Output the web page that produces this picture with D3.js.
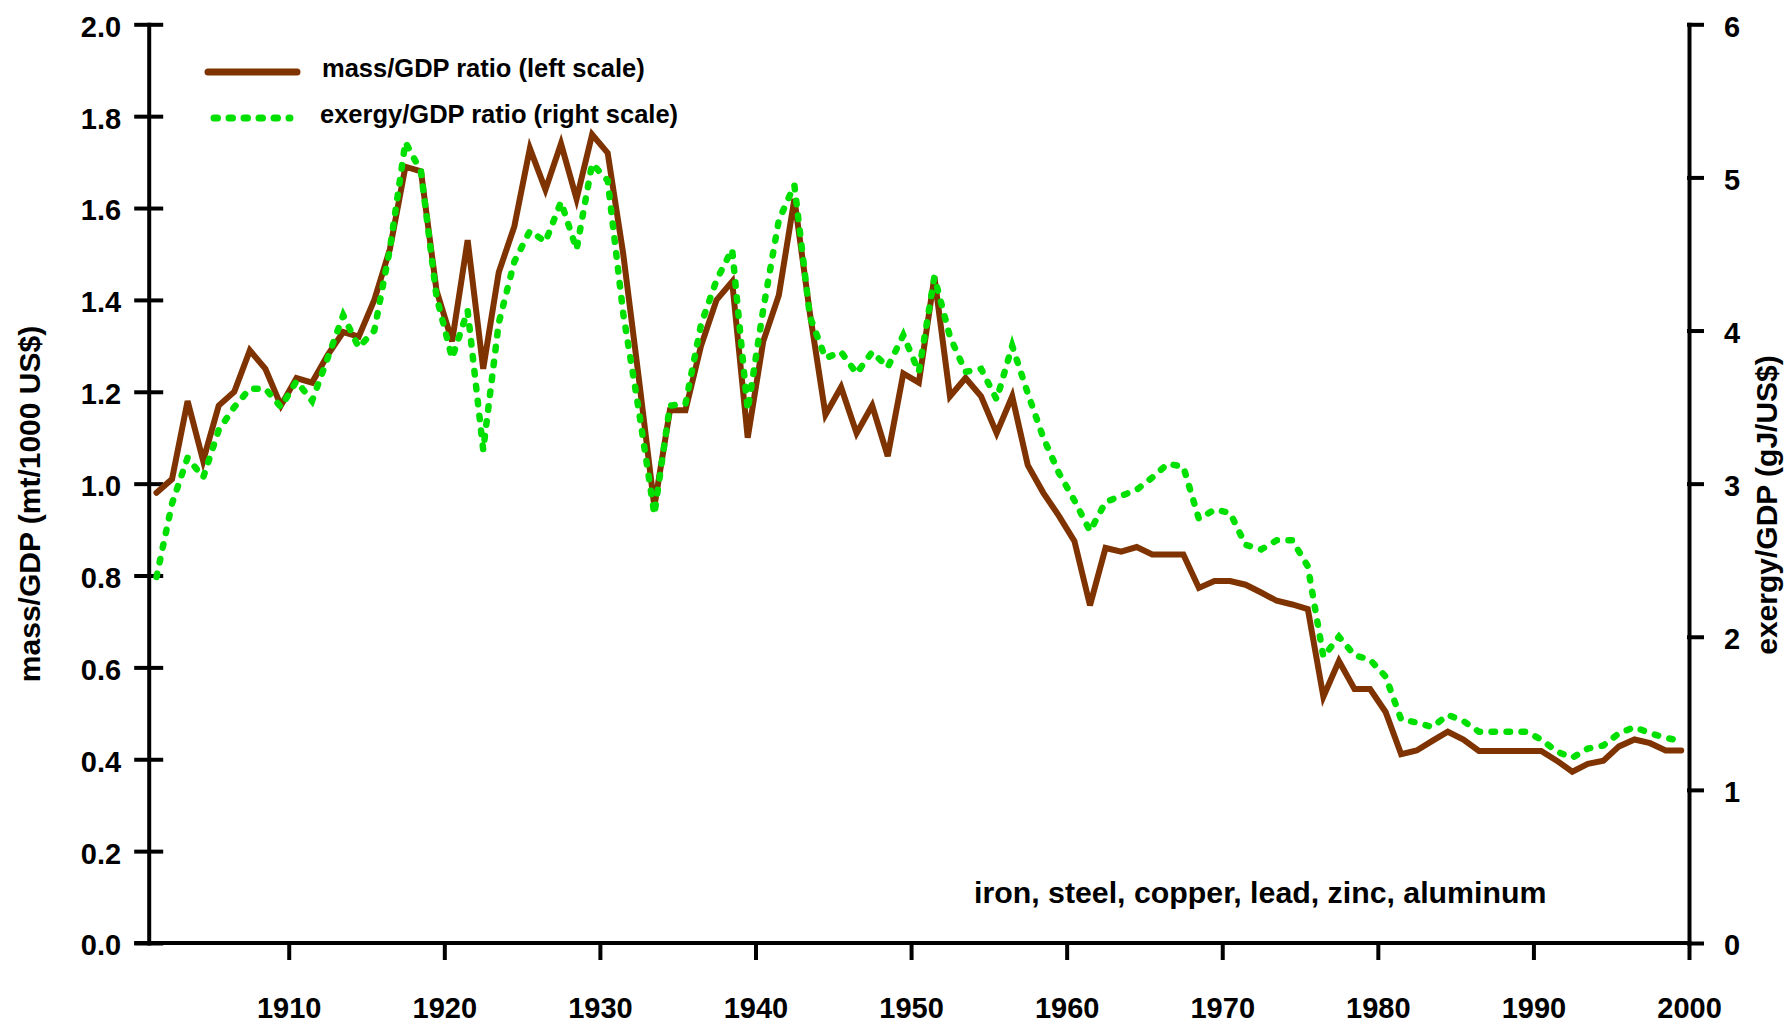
<!DOCTYPE html>
<html>
<head>
<meta charset="utf-8">
<script src="https://cdn.jsdelivr.net/npm/d3@7"></script>
<style>
body { margin: 0; background: #fff; }
text { font-family: "Liberation Sans", Arial, sans-serif; font-weight: bold; fill: #000; }
</style>
</head>
<body>
<div id="chart-area"></div>
<script>
// yearly values 1901-1999
var years = d3.range(1901, 2000);
var massRatio = [
    0.98, 1.01, 1.18, 1.05, 1.17, 1.20, 1.29, 1.25, 1.17, 1.23,
    1.22, 1.28, 1.33, 1.32, 1.40, 1.51, 1.69, 1.68, 1.42, 1.31,
    1.53, 1.25, 1.46, 1.56, 1.73, 1.64, 1.74, 1.62, 1.76, 1.72,
    1.50, 1.23, 0.95, 1.16, 1.16, 1.30, 1.40, 1.44, 1.10, 1.31,
    1.41, 1.62, 1.37, 1.15, 1.21, 1.11, 1.17, 1.06, 1.24, 1.22,
    1.45, 1.19, 1.23, 1.19, 1.11, 1.19, 1.04, 0.98, 0.93, 0.875,
    0.735, 0.86, 0.852, 0.862, 0.846, 0.846, 0.846, 0.773, 0.788, 0.788,
    0.78, 0.763, 0.745, 0.737, 0.727, 0.536, 0.614, 0.553, 0.553, 0.503,
    0.411, 0.419, 0.44, 0.46, 0.443, 0.418, 0.418, 0.418, 0.418, 0.418,
    0.397, 0.373, 0.39, 0.397, 0.428, 0.443, 0.435, 0.419, 0.419
];
var exergyRatio = [
    2.39, 2.87, 3.17, 3.04, 3.35, 3.50, 3.62, 3.62, 3.50, 3.67,
    3.54, 3.82, 4.10, 3.89, 4.00, 4.53, 5.23, 5.04, 4.22, 3.82,
    4.13, 3.22, 4.05, 4.45, 4.65, 4.58, 4.84, 4.53, 5.09, 4.98,
    4.11, 3.48, 2.80, 3.51, 3.52, 4.04, 4.33, 4.53, 3.48, 4.14,
    4.72, 4.95, 4.09, 3.82, 3.86, 3.72, 3.86, 3.76, 3.97, 3.73,
    4.35, 3.96, 3.73, 3.75, 3.55, 3.90, 3.59, 3.30, 3.07, 2.89,
    2.69, 2.88, 2.92, 2.96, 3.04, 3.13, 3.11, 2.77, 2.83, 2.81,
    2.60, 2.57, 2.63, 2.63, 2.46, 1.87, 2.00, 1.88, 1.85, 1.74,
    1.46, 1.44, 1.41, 1.49, 1.45, 1.38, 1.38, 1.38, 1.38, 1.33,
    1.25, 1.21, 1.27, 1.29, 1.37, 1.41, 1.37, 1.34, 1.32
];
var leftTicks = [0, 0.2, 0.4, 0.6, 0.8, 1.0, 1.2, 1.4, 1.6, 1.8, 2.0];
var rightTicks = [0, 1, 2, 3, 4, 5, 6];
var yearTicks = [1910, 1920, 1930, 1940, 1950, 1960, 1970, 1980, 1990, 2000];
var legendLabels = ["mass/GDP ratio (left scale)", "exergy/GDP ratio (right scale)"];
var note = "iron, steel, copper, lead, zinc, aluminum";

var brown = "#7f3300";
var green = "#00e000";

var width = 1789, height = 1025;
var margin = {top: 24.3, right: 100, bottom: 82, left: 148.7};

var svg = d3.select("#chart-area")
    .append("svg")
    .attr("width", width)
    .attr("height", height);

var x = d3.scaleLinear().domain([1901, 2000]).range([margin.left, width - margin.right]);
var yLeft = d3.scaleLinear().domain([0, 2]).range([height - margin.bottom, margin.top]);
var yRight = d3.scaleLinear().domain([0, 6]).range([height - margin.bottom, margin.top]);

var data = years.map((yr, i) => {
    return {year: yr, mass: massRatio[i], exergy: exergyRatio[i]};
});

// axes
var leftAxis = svg.append("g")
    .attr("transform", "translate(" + margin.left + ",0)")
    .call(d3.axisLeft(yLeft).tickValues(leftTicks).tickFormat(d3.format(".1f"))
        .tickSizeInner(12.5).tickSizeOuter(0).tickPadding(15));
leftAxis.selectAll(".tick line").attr("x2", -12.5).attr("x1", 12.5);

var rightAxis = svg.append("g")
    .attr("transform", "translate(" + (width - margin.right) + ",0)")
    .call(d3.axisRight(yRight).tickValues(rightTicks).tickFormat(d3.format("d"))
        .tickSizeInner(13).tickSizeOuter(0).tickPadding(22));

var bottomAxis = svg.append("g")
    .attr("transform", "translate(0," + (height - margin.bottom) + ")")
    .call(d3.axisBottom(x).tickValues(yearTicks).tickFormat(d3.format("d"))
        .tickSizeInner(15).tickSizeOuter(0).tickPadding(39));

// x axis line starts under the 0.0 tick
bottomAxis.select(".domain").attr("d", "M" + (margin.left - 12.5) + ",0H" + (width - margin.right));

[leftAxis, rightAxis, bottomAxis].forEach((g) => {
    g.selectAll(".domain, .tick line")
        .attr("stroke", "#000")
        .attr("stroke-width", 4)
        .attr("stroke-linecap", "square");
    g.selectAll(".tick text")
        .attr("font-size", 29)
        .attr("fill", "#000");
});
leftAxis.selectAll(".tick text").attr("dy", "0.41em");
rightAxis.selectAll(".tick text").attr("dy", "0.41em");

// axis titles
svg.append("text")
    .attr("transform", "translate(40,504) rotate(-90)")
    .attr("text-anchor", "middle")
    .attr("font-size", 30)
    .text("mass/GDP (mt/1000 US$)");

svg.append("text")
    .attr("transform", "translate(1777,505) rotate(-90)")
    .attr("text-anchor", "middle")
    .attr("font-size", 30)
    .text("exergy/GDP (gJ/US$)");

// lines
var massLine = d3.line()
    .x((d) => x(d.year + 0.5))
    .y((d) => yLeft(d.mass));
var exergyLine = d3.line()
    .x((d) => x(d.year + 0.5))
    .y((d) => yRight(d.exergy));

svg.append("path")
    .datum(data)
    .attr("d", massLine)
    .attr("fill", "none")
    .attr("stroke", brown)
    .attr("stroke-width", 6)
    .attr("stroke-linejoin", "miter")
    .attr("stroke-linecap", "round");

svg.append("path")
    .datum(data)
    .attr("d", exergyLine)
    .attr("fill", "none")
    .attr("stroke", green)
    .attr("stroke-width", 6.5)
    .attr("stroke-dasharray", "3.5 11.5")
    .attr("stroke-linecap", "round");

// legend
var legend = svg.append("g");
legend.append("line")
    .attr("x1", 208).attr("x2", 297)
    .attr("y1", 72).attr("y2", 72)
    .attr("stroke", brown)
    .attr("stroke-width", 7)
    .attr("stroke-linecap", "round");
legend.append("line")
    .attr("x1", 214).attr("x2", 290)
    .attr("y1", 118).attr("y2", 118)
    .attr("stroke", green)
    .attr("stroke-width", 7)
    .attr("stroke-dasharray", "3.5 11.5")
    .attr("stroke-linecap", "round");
legend.selectAll("text")
    .data(legendLabels)
    .enter()
    .append("text")
    .attr("x", (d, i) => i == 0 ? 322 : 320)
    .attr("y", (d, i) => 77 + i * 46)
    .attr("font-size", 25.5)
    .text((d) => d);

svg.append("text")
    .attr("x", 974)
    .attr("y", 903)
    .attr("font-size", 30.3)
    .text(note);
</script>
</body>
</html>
